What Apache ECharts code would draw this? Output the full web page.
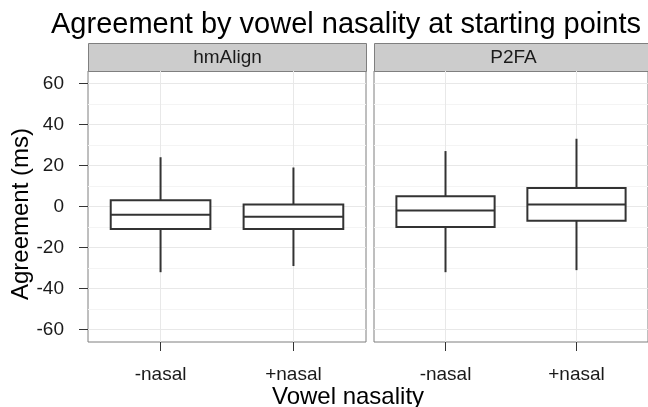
<!DOCTYPE html>
<html>
<head>
<meta charset="utf-8">
<script src="https://cdn.jsdelivr.net/npm/echarts@6/dist/echarts.min.js"></script>
<style>
  html, body { margin: 0; padding: 0; background: #fff; }
  #chart { width: 648px; height: 407px; }
</style>
</head>
<body>
<div id="chart"></div>
<script>
var categories = ["-nasal", "+nasal"];
var panels = ["hmAlign", "P2FA"];
// each row: [lower whisker, Q1, median, Q3, upper whisker] in ms
var hmAlignBoxes = [[-32, -11, -4, 3, 24], [-29, -11, -5, 1, 19]];
var p2faBoxes = [[-32, -10, -2, 5, 27], [-31, -7, 1, 9, 33]];
var yTicks = [-60, -40, -20, 0, 20, 40, 60];
var yMinorTicks = [-50, -30, -10, 10, 30, 50];

var font = "Liberation Sans, Arial, Helvetica, sans-serif";
var textColor = "#1a1a1a";

function renderBox(params, api) {
  var x = api.value(0);
  var lo = api.coord([x, api.value(1)]);
  var q1 = api.coord([x, api.value(2)]);
  var med = api.coord([x, api.value(3)]);
  var q3 = api.coord([x, api.value(4)]);
  var hi = api.coord([x, api.value(5)]);
  var half = api.size([0.75, 0])[0] / 2;
  var st = { stroke: "#333333", lineWidth: 2 };
  return {
    type: "group",
    children: [
      { type: "line", shape: { x1: lo[0], y1: lo[1], x2: q1[0], y2: q1[1] }, style: st },
      { type: "line", shape: { x1: q3[0], y1: q3[1], x2: hi[0], y2: hi[1] }, style: st },
      {
        type: "rect",
        shape: { x: q3[0] - half, y: q3[1], width: half * 2, height: q1[1] - q3[1] },
        style: { fill: "#ffffff", stroke: "#333333", lineWidth: 2 }
      },
      { type: "line", shape: { x1: med[0] - half, y1: med[1], x2: med[0] + half, y2: med[1] }, style: st }
    ]
  };
}

var gridLeft = [88, 374];
var gridTop = 71;
var gridW = 278;
var gridH = 271;

var grids = [];
var xAxes = [];
var yAxes = [];
var series = [];
var graphics = [];
var boxSets = [hmAlignBoxes, p2faBoxes];

for (var p = 0; p < panels.length; p++) {
  grids.push({
    left: gridLeft[p], top: gridTop, width: gridW, height: gridH,
    show: true, backgroundColor: "#ffffff", borderColor: "#7f7f7f", borderWidth: 1
  });
  xAxes.push({
    type: "value", gridIndex: p, min: -0.546, max: 1.546,
    axisLine: { show: false, onZero: false },
    axisTick: { show: true, length: 9, customValues: [0, 1], lineStyle: { color: "#333333" } },
    axisLabel: {
      customValues: [0, 1], margin: 23, fontSize: 19, fontFamily: font, color: textColor,
      formatter: function (v) { return categories[Math.round(v)]; }
    },
    splitLine: { show: true, lineStyle: { color: "#e8e8e8", width: 1 } }
  });
  // major y axis
  yAxes.push({
    type: "value", gridIndex: p, min: -66, max: 66,
    axisLine: { show: false, onZero: false },
    axisTick: { show: p === 0, length: 9, customValues: yTicks, lineStyle: { color: "#333333" } },
    axisLabel: { show: p === 0, customValues: yTicks, margin: 24, fontSize: 19, fontFamily: font, color: textColor },
    splitLine: { show: true, lineStyle: { color: "#e8e8e8", width: 1 } }
  });
  // minor gridlines
  yAxes.push({
    type: "value", gridIndex: p, min: -66, max: 66, position: "left",
    axisLine: { show: false, onZero: false },
    axisTick: { show: false, customValues: yMinorTicks },
    axisLabel: { show: false, customValues: yMinorTicks },
    splitLine: { show: true, lineStyle: { color: "#f4f4f4", width: 1 } }
  });
  series.push({
    type: "custom",
    xAxisIndex: p,
    yAxisIndex: p * 2,
    renderItem: renderBox,
    encode: { x: 0, y: [1, 2, 3, 4, 5] },
    data: boxSets[p].map(function (b, i) { return [i].concat(b); }),
    z: 5
  });
  graphics.push({
    type: "group",
    left: gridLeft[p], top: 43,
    children: [
      { type: "rect", shape: { x: 0, y: 0, width: gridW, height: 28 }, style: { fill: "#cccccc", stroke: "#7f7f7f", lineWidth: 1 } },
      {
        type: "text", x: gridW / 2, y: 14,
        style: { text: panels[p], fontSize: 19, fontFamily: font, fill: textColor, align: "center", verticalAlign: "middle" }
      }
    ]
  });
}

graphics.push({
  type: "text", x: 348, y: 385,
  style: { text: "Vowel nasality", fontSize: 24, fontFamily: font, fill: "#000000", align: "center", verticalAlign: "top" }
});
graphics.push({
  type: "text", x: 21, y: 214, rotation: Math.PI / 2,
  style: { text: "Agreement (ms)", fontSize: 24, fontFamily: font, fill: "#000000", align: "center", verticalAlign: "middle" }
});

var chart = echarts.init(document.getElementById("chart"), null, { renderer: "canvas" });
var option = {
  animation: false,
  backgroundColor: "#ffffff",
  title: {
    text: "Agreement by vowel nasality at starting points",
    left: 51, top: 10, padding: 0,
    textStyle: { fontSize: 29, fontWeight: "normal", fontFamily: font, color: "#000000" }
  },
  grid: grids,
  xAxis: xAxes,
  yAxis: yAxes,
  series: series,
  graphic: graphics
};
chart.setOption(option);
window.addEventListener("resize", chart.resize);
</script>
</body>
</html>
